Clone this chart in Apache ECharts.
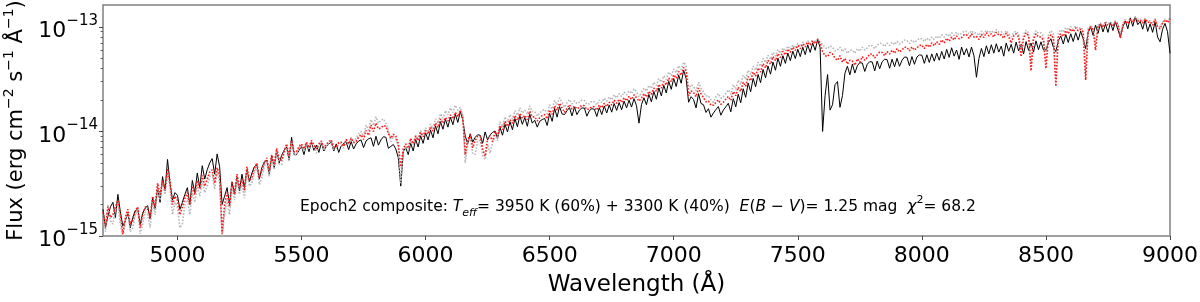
<!DOCTYPE html>
<html>
<head>
<meta charset="utf-8">
<script src="https://cdn.jsdelivr.net/npm/echarts@6/dist/echarts.min.js"></script>
<style>
html,body{margin:0;padding:0;background:#fff;}
#chart{width:1200px;height:302px;}
</style>
</head>
<body>
<div id="chart"></div>
<script>
// Wavelength samples (Angstrom)
const wavelength = [
4700,4710,4720,4730,4740,4750,4760,4770,4780,4790,4800,4810,4820,4830,4840,4850,4860,4870,4880,4890,
4900,4910,4920,4930,4940,4950,4960,4970,4980,4990,5000,5010,5020,5030,5040,5050,5060,5070,5080,5090,
5100,5110,5120,5130,5140,5150,5160,5170,5180,5190,5200,5210,5220,5230,5240,5250,5260,5270,5280,5290,
5300,5310,5320,5330,5340,5350,5360,5370,5380,5390,5400,5410,5420,5430,5440,5450,5460,5470,5480,5490,
5500,5510,5520,5530,5540,5550,5560,5570,5580,5590,5600,5610,5620,5630,5640,5650,5660,5670,5680,5690,
5700,5710,5720,5730,5740,5750,5760,5770,5780,5790,5800,5810,5820,5830,5840,5850,5860,5870,5880,5890,
5900,5910,5920,5930,5940,5950,5960,5970,5980,5990,6000,6010,6020,6030,6040,6050,6060,6070,6080,6090,
6100,6110,6120,6130,6140,6150,6160,6170,6180,6190,6200,6210,6220,6230,6240,6250,6260,6270,6280,6290,
6300,6310,6320,6330,6340,6350,6360,6370,6380,6390,6400,6410,6420,6430,6440,6450,6460,6470,6480,6490,
6500,6510,6520,6530,6540,6550,6560,6570,6580,6590,6600,6610,6620,6630,6640,6650,6660,6670,6680,6690,
6700,6710,6720,6730,6740,6750,6760,6770,6780,6790,6800,6810,6820,6830,6840,6850,6860,6870,6880,6890,
6900,6910,6920,6930,6940,6950,6960,6970,6980,6990,7000,7010,7020,7030,7040,7050,7060,7070,7080,7090,
7100,7110,7120,7130,7140,7150,7160,7170,7180,7190,7200,7210,7220,7230,7240,7250,7260,7270,7280,7290,
7300,7310,7320,7330,7340,7350,7360,7370,7380,7390,7400,7410,7420,7430,7440,7450,7460,7470,7480,7490,
7500,7510,7520,7530,7540,7550,7560,7570,7580,7590,7600,7610,7620,7630,7640,7650,7660,7670,7680,7690,
7700,7710,7720,7730,7740,7750,7760,7770,7780,7790,7800,7810,7820,7830,7840,7850,7860,7870,7880,7890,
7900,7910,7920,7930,7940,7950,7960,7970,7980,7990,8000,8010,8020,8030,8040,8050,8060,8070,8080,8090,
8100,8110,8120,8130,8140,8150,8160,8170,8180,8190,8200,8210,8220,8230,8240,8250,8260,8270,8280,8290,
8300,8310,8320,8330,8340,8350,8360,8370,8380,8390,8400,8410,8420,8430,8440,8450,8460,8470,8480,8490,
8500,8510,8520,8530,8540,8550,8560,8570,8580,8590,8600,8610,8620,8630,8640,8650,8660,8670,8680,8690,
8700,8710,8720,8730,8740,8750,8760,8770,8780,8790,8800,8810,8820,8830,8840,8850,8860,8870,8880,8890,
8900,8910,8920,8930,8940,8950,8960,8970,8980,8990,9000
];
// Observed flux, in units of 1e-15 erg cm^-2 s^-1 A^-1
const fluxObserved = [
1.8,1.2,1.55,1.9,2.1,1.5,2.5,1.7,1.25,1.4,1.65,1.2,1.5,1.75,1.8,1.3,1.65,1.85,1.95,1.45,
2.3,1.8,2.9,2.1,3.7,2.7,5.4,3.2,2.2,2.6,2.45,1.8,2.1,2.5,2.9,2.0,3.4,2.6,4.0,2.9,
4.7,3.5,4.3,5.0,5.5,3.9,6.1,4.6,2.0,2.4,2.9,2.0,3.3,2.5,3.6,2.7,3.9,2.9,4.3,3.3,
4.0,4.6,4.8,3.5,4.5,5.1,5.3,3.9,5.8,4.5,6.5,5.0,5.9,6.6,7.1,5.3,8.8,6.0,6.0,6.6,
7.2,6.0,7.7,6.4,7.9,6.6,7.4,6.3,7.8,6.5,7.2,7.6,7.9,6.5,7.6,6.3,7.3,7.7,7.9,6.7,
8.0,6.8,7.6,8.1,8.3,7.0,8.1,8.5,8.7,7.2,9.0,7.4,8.3,8.9,8.8,6.9,7.2,7.5,6.8,5.6,
3.0,6.4,7.0,6.0,7.7,6.5,8.4,7.1,9.1,7.7,9.7,8.3,10.3,8.7,11.3,9.5,12.4,10.5,13.1,11.0,
13.7,11.6,14.6,12.2,15.6,12.8,9.0,7.6,9.5,7.9,8.8,9.3,9.2,7.7,9.9,8.3,9.3,9.8,10.1,8.6,
10.9,9.2,11.7,9.9,12.4,10.4,13.3,11.1,14.1,11.7,13.6,11.2,14.6,12.0,12.8,11.0,12.5,13.0,13.3,11.4,
14.9,12.5,16.6,13.7,17.3,14.7,14.5,15.8,16.9,14.1,17.1,14.5,16.0,16.8,16.7,14.0,15.8,16.5,16.3,13.9,
16.9,14.5,17.5,15.0,17.9,15.3,18.5,15.9,18.9,16.1,19.5,16.8,19.9,17.1,20.6,17.6,12.0,18.0,21.0,18.0,
22.6,19.2,24.1,20.3,26.1,21.9,27.6,23.3,30.2,25.3,32.1,26.9,34.6,28.9,38.5,32.1,19.0,21.5,20.2,16.8,
23.0,18.5,18.0,15.2,16.5,13.7,15.0,16.2,17.3,14.3,16.0,17.2,18.6,15.4,20.6,17.2,22.7,18.8,25.6,21.2,
29.0,24.0,32.2,26.8,35.1,29.3,39.2,32.6,42.2,35.3,46.1,38.5,50.2,42.0,53.0,44.8,56.1,47.5,58.6,49.8,
61.2,52.0,64.0,54.3,67.3,57.0,70.1,59.7,75.5,63.3,10.0,22.0,35.0,16.0,18.0,28.0,30.0,17.0,22.0,36.0,
42.0,34.8,44.2,36.2,42.5,45.5,45.1,37.5,44.0,46.5,46.2,38.0,47.1,39.8,46.5,49.0,48.6,40.2,49.1,41.6,
50.1,42.0,48.0,51.5,51.2,42.5,52.1,43.9,51.5,54.0,53.6,44.8,54.1,45.7,55.2,47.0,56.1,48.0,58.2,49.3,
61.0,51.1,63.2,52.5,60.1,48.9,64.2,53.8,62.0,51.6,64.1,52.9,33.0,49.8,62.2,52.0,66.0,55.2,67.5,56.1,
69.0,57.4,65.5,52.5,70.2,58.4,68.0,56.1,71.5,58.8,68.5,55.2,72.4,59.7,70.0,57.5,73.5,60.6,72.0,60.2,
60.0,71.0,77.0,63.8,58.0,74.0,81.5,68.8,84.5,71.0,86.0,72.4,88.2,74.7,91.0,76.9,62.0,88.0,100.0,83.3,
104.0,86.9,108.0,89.6,106.0,88.7,110.0,92.3,112.0,94.1,80.0,100.0,114.0,95.9,122.0,101.4,125.0,105.0,113.0,95.0,
117.0,90.5,107.0,88.7,112.0,80.0,72.0,95.0,108.0,90.0,56.0
];
// Composite model 3950 K (60%) + 3300 K (40%), same units
const fluxComposite = [
1.7,1.25,1.9,1.5,1.6,1.9,2.2,1.6,1.05,1.5,1.8,1.3,1.4,1.7,1.9,1.2,1.6,1.9,1.8,1.5,
2.4,1.9,3.2,2.5,3.4,2.8,4.4,3.3,2.0,2.4,2.2,1.6,1.9,2.3,2.6,2.0,3.0,2.5,3.4,2.8,
3.8,3.0,3.5,4.1,4.3,3.2,4.5,3.8,1.05,2.0,2.6,1.9,3.3,2.5,3.9,2.9,3.5,2.7,4.6,3.4,
3.6,4.4,5.0,3.6,4.2,5.0,5.6,4.2,6.0,4.8,6.9,5.4,5.3,6.5,7.6,5.8,8.2,6.4,6.4,7.2,
7.6,6.8,7.9,7.0,8.2,7.4,6.8,7.6,8.1,7.0,7.5,8.0,8.3,7.1,7.2,7.8,7.9,7.2,8.4,7.6,
8.6,7.8,8.0,8.8,9.3,8.4,10.2,9.2,11.5,10.0,12.0,10.6,10.8,11.4,11.2,9.6,8.6,9.4,9.0,7.6,
4.6,6.8,7.6,6.9,8.6,7.6,9.0,8.2,9.8,8.9,10.2,9.4,11.0,10.1,12.0,10.9,13.2,12.0,13.6,12.6,
14.4,13.2,15.3,13.8,16.0,13.5,6.0,8.4,9.3,7.0,8.2,9.0,9.0,6.8,5.8,8.6,9.1,8.0,10.0,9.0,
11.4,10.4,12.5,11.2,13.0,12.0,14.2,12.8,14.9,13.4,14.3,13.0,15.6,13.8,13.8,12.6,13.5,14.2,14.5,13.2,
16.0,14.6,17.6,16.0,18.6,16.8,15.2,16.8,18.0,16.4,17.5,16.5,17.0,17.8,17.6,16.2,16.5,17.3,17.2,16.0,
17.9,16.8,18.6,17.3,19.0,17.9,19.9,18.6,20.3,19.0,21.0,19.6,21.6,20.2,22.4,21.0,19.5,20.8,23.0,21.4,
24.2,22.6,26.0,24.2,28.2,26.0,30.0,27.8,32.5,30.0,34.8,32.2,37.5,34.5,41.0,37.8,22.0,24.5,23.5,21.5,
26.0,23.0,21.0,19.2,19.5,17.8,17.8,19.0,20.0,18.2,19.0,20.4,21.6,19.8,24.0,22.0,26.5,24.2,29.6,27.0,
33.5,30.5,37.0,33.8,40.5,37.0,44.5,40.5,48.0,44.0,52.0,47.5,55.5,51.0,58.5,54.0,61.5,57.0,64.0,59.5,
66.5,62.0,69.0,64.5,71.5,67.0,73.5,69.0,76.0,70.0,58.0,53.0,52.0,57.0,55.0,50.0,48.0,53.0,46.0,50.0,
44.0,48.0,47.0,43.0,49.5,46.0,52.0,48.0,51.0,55.0,55.0,50.5,54.0,57.5,57.0,53.0,58.0,55.0,60.0,56.0,
62.0,57.5,60.0,64.0,63.5,59.0,64.5,60.0,63.0,66.5,67.0,62.0,68.0,64.0,70.5,66.0,72.0,68.0,75.0,70.0,
78.0,73.0,80.0,75.0,82.0,77.0,79.0,84.0,84.0,78.0,86.0,80.0,81.0,76.0,85.0,79.0,88.0,82.0,86.0,80.0,
89.0,83.0,84.0,78.0,87.0,81.0,70.0,82.0,86.0,80.0,52.0,78.0,88.0,82.0,38.0,76.0,86.0,80.0,80.0,74.0,
40.0,78.0,84.0,78.0,27.0,80.0,86.0,81.0,92.0,86.0,96.0,90.0,98.0,92.0,95.0,89.0,31.0,92.0,100.0,94.0,
60.0,100.0,106.0,99.0,110.0,103.0,108.0,101.0,112.0,105.0,78.0,104.0,114.0,107.0,118.0,111.0,121.0,114.0,116.0,109.0,
119.0,110.0,112.0,104.0,118.0,100.0,96.0,108.0,117.0,110.0,120.0
];
// Comparison model (grey dotted), same units
const fluxComparison = [
1.6,1.1,2.0,1.4,1.3,1.8,2.0,1.3,0.95,1.4,1.7,1.1,1.2,1.6,1.8,1.05,1.3,1.7,1.6,1.2,
2.1,1.6,3.0,2.2,3.2,2.5,4.0,2.9,1.6,2.1,1.9,1.2,1.3,2.0,2.3,1.6,2.6,2.1,3.0,2.4,
3.4,2.6,3.0,3.7,3.9,2.8,4.1,3.3,0.95,1.7,2.2,1.6,3.0,2.2,3.5,2.5,3.1,2.3,4.2,3.0,
3.2,4.0,4.6,3.1,3.6,4.6,5.2,3.7,5.7,4.3,6.6,4.9,4.8,6.1,7.3,5.3,8.0,6.0,6.0,6.9,
7.4,6.5,7.7,6.7,8.0,7.0,6.2,7.3,7.9,6.6,7.2,7.8,8.1,6.7,6.9,7.6,7.7,6.9,8.3,7.4,
8.8,7.9,8.6,9.4,10.0,9.0,11.5,10.3,13.0,11.4,13.8,12.0,12.8,13.2,12.0,10.2,8.0,9.0,8.5,7.0,
3.2,6.4,7.2,6.5,8.4,7.4,9.2,8.3,10.2,9.2,10.8,9.8,11.8,10.7,13.2,12.0,14.8,13.4,15.8,14.4,
16.8,15.2,17.8,16.0,17.0,14.0,5.0,7.8,8.8,6.2,6.0,8.2,8.2,5.9,5.4,7.6,6.2,7.8,9.2,8.2,
12.4,11.2,13.8,12.4,14.5,13.2,15.8,14.3,16.8,15.0,16.0,14.6,17.5,15.5,15.5,14.0,15.0,15.9,16.2,14.8,
18.0,16.4,19.8,18.0,21.0,19.0,17.0,18.9,20.2,18.4,19.6,18.5,19.0,20.0,19.8,18.2,18.4,19.5,19.2,18.0,
20.0,18.9,20.8,19.5,21.4,20.1,22.4,21.0,23.0,21.6,23.8,22.4,24.5,23.0,25.5,24.0,21.5,23.6,26.0,24.3,
27.5,25.8,29.5,27.5,32.0,29.6,34.0,31.5,37.0,34.2,39.5,36.5,42.5,39.2,46.0,42.6,25.5,28.0,27.0,24.5,
29.5,26.0,24.0,21.8,22.0,20.0,19.0,21.5,23.0,20.8,21.5,23.2,25.0,22.6,28.0,25.5,31.0,28.2,34.5,31.5,
38.5,35.0,42.0,38.5,46.0,42.0,50.0,45.8,53.5,49.0,57.0,52.5,60.5,56.0,63.0,58.5,65.5,61.0,67.5,63.0,
69.5,65.0,71.5,67.0,73.5,69.0,75.0,71.0,77.5,72.0,68.0,63.0,62.0,66.0,64.0,59.0,60.0,64.0,58.0,62.0,
56.0,60.0,60.0,56.0,62.0,58.5,64.0,60.0,63.0,67.0,66.0,62.0,66.5,70.0,69.0,65.0,70.0,66.5,71.5,67.5,
73.0,68.5,71.0,75.0,74.0,69.5,75.0,71.0,74.0,78.0,77.0,72.5,78.0,74.0,80.0,76.0,82.0,78.0,84.0,79.5,
86.0,81.0,88.0,83.0,89.0,84.0,87.0,91.0,91.0,86.0,92.0,87.0,88.0,83.0,91.0,86.0,93.0,88.0,92.0,87.0,
94.0,89.0,90.0,85.0,92.0,87.0,80.0,88.0,91.0,86.0,60.0,84.0,93.0,88.0,45.0,82.0,92.0,87.0,88.0,82.0,
46.0,85.0,92.0,86.0,32.0,88.0,94.0,89.0,99.0,93.0,101.0,95.0,102.0,96.0,99.0,94.0,36.0,96.0,104.0,98.0,
68.0,104.0,109.0,103.0,113.0,107.0,111.0,105.0,115.0,109.0,84.0,108.0,117.0,111.0,120.0,114.0,123.0,117.0,119.0,113.0,
121.0,113.0,115.0,108.0,120.0,104.0,100.0,111.0,119.0,113.0,122.0
];
const xTickValues = [5000,5500,6000,6500,7000,7500,8000,8500,9000];
const yTickValues = [1, 10, 100]; // i.e. 1e-15, 1e-14, 1e-13
const yUnitExponent = -15;

function pairs(ys){ return wavelength.map((w,i)=>[w, ys[i]]); }

const FONT = 'DejaVu Sans';
const chart = echarts.init(document.getElementById('chart'), null, {renderer:'canvas'});
chart.setOption({
  animation:false,
  backgroundColor:'#ffffff',
  grid:{left:103, right:30, top:5, bottom:66, show:true, borderColor:'#808080', borderWidth:1.5, backgroundColor:'transparent', outerBoundsMode:'none'},
  xAxis:{
    type:'value', min:4700, max:9000,
    axisLine:{show:false}, splitLine:{show:false},
    axisTick:{show:true, customValues:xTickValues, length:4, lineStyle:{color:'#444', width:1}},
    axisLabel:{customValues:xTickValues, fontSize:22, fontFamily:FONT, color:'#000', margin:9,
      formatter:function(v){ return String(v); }},
    name:'Wavelength (Å)', nameLocation:'middle', nameGap:38,
    nameTextStyle:{fontSize:23, fontFamily:FONT, color:'#000'}
  },
  yAxis:{
    type:'log', logBase:10, min:1, max:162,
    axisLine:{show:false}, splitLine:{show:false},
    axisTick:{show:true, customValues:yTickValues, length:4, lineStyle:{color:'#444', width:1}},
    minorTick:{show:true, splitNumber:9, length:2.5, lineStyle:{color:'#444', width:0.8}},
    minorSplitLine:{show:false},
    axisLabel:{
      customValues:yTickValues, margin:5, fontFamily:FONT, color:'#000', padding:[9,0,0,0],
      formatter:function(v){
        const e = Math.round(Math.log10(v)) + yUnitExponent;
        return '{b|10}{s|\u2212' + Math.abs(e) + '}';
      },
      rich:{
        b:{fontSize:22, fontFamily:FONT, color:'#000', lineHeight:36, verticalAlign:'middle'},
        s:{fontSize:15, fontFamily:FONT, color:'#000', lineHeight:16, verticalAlign:'top'}
      }
    },
    name:'{t|Flux (erg cm}{s|\u22122}{t| s}{s|\u22121}{t| Å}{s|\u22121}{t|)}',
    nameLocation:'middle', nameGap:71, nameRotate:90,
    nameTextStyle:{
      fontFamily:FONT, color:'#000',
      rich:{
        t:{fontSize:21, fontFamily:FONT, color:'#000', lineHeight:30, verticalAlign:'middle'},
        s:{fontSize:14, fontFamily:FONT, color:'#000', lineHeight:14, verticalAlign:'top'}
      }
    }
  },
  series:[
    {name:'observed', type:'line', data:pairs(fluxObserved), showSymbol:false, symbol:'none',
     lineStyle:{color:'#000000', width:1}, z:2},
    {name:'comparison', type:'line', data:pairs(fluxComparison), showSymbol:false, symbol:'none',
     lineStyle:{color:'#b8b8b8', width:1.6, type:'dotted'}, z:3},
    {name:'composite', type:'line', data:pairs(fluxComposite), showSymbol:false, symbol:'none',
     lineStyle:{color:'#ff1a1a', width:1.6, type:'dotted'}, z:4}
  ],
  graphic:[{
    type:'text', left:300, top:195, z:10,
    style:{
      text:'{n|Epoch2 composite: }{i|T}{sub|eff}{n|= 3950 K (60%) + 3300 K (40%)  }{i|E}{n|(}{i|B}{n| \u2212 }{i|V}{n|)= 1.25 mag  }{i|\u03c7}{sup|2}{n|= 68.2}',
      rich:{
        n:{fontSize:15.5, fontFamily:FONT, fill:'#000', lineHeight:24, verticalAlign:'middle'},
        i:{fontSize:15.5, fontFamily:FONT, fontStyle:'italic', fill:'#000', lineHeight:24, verticalAlign:'middle'},
        sub:{fontSize:11, fontFamily:FONT, fontStyle:'italic', fill:'#000', lineHeight:11, verticalAlign:'bottom'},
        sup:{fontSize:11, fontFamily:FONT, fill:'#000', lineHeight:11, verticalAlign:'top'}
      }
    }
  }]
});
</script>
</body>
</html>
